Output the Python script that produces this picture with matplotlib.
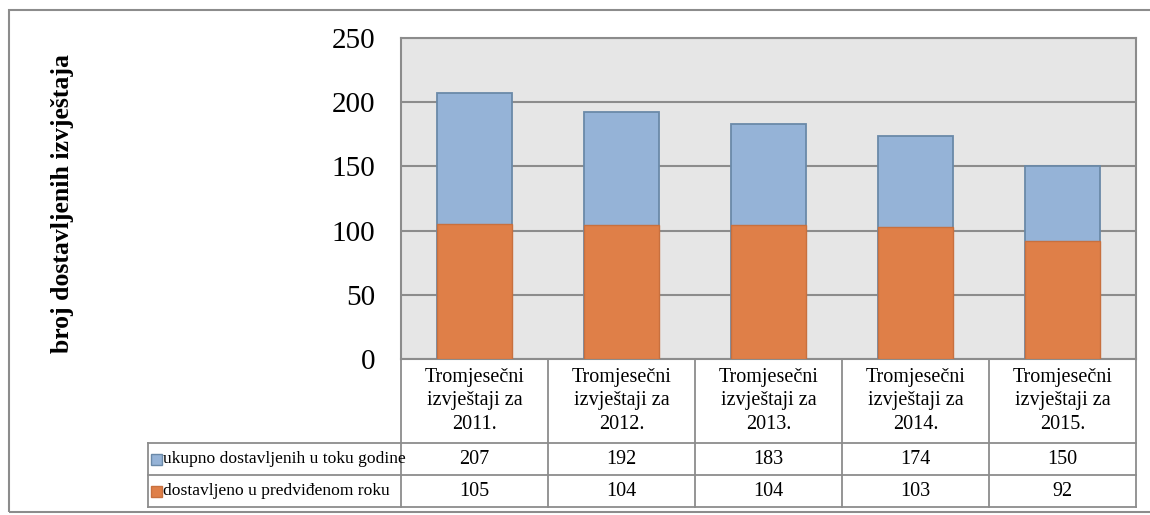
import matplotlib.pyplot as plt
from matplotlib.patches import Rectangle
from matplotlib.transforms import blended_transform_factory

# data
categories = ["Tromjesečni\nizvještaji za\n2011.", "Tromjesečni\nizvještaji za\n2012.",
              "Tromjesečni\nizvještaji za\n2013.", "Tromjesečni\nizvještaji za\n2014.",
              "Tromjesečni\nizvještaji za\n2015."]
total = [207, 192, 183, 174, 150]
on_time = [105, 104, 104, 103, 92]
series_names = ["ukupno dostavljenih u toku godine", "dostavljeno u predviđenom roku"]
y_ticks = [0, 50, 100, 150, 200, 250]

blue = "#95B3D7"
blue_edge = "#6A89A8"
orange = "#DF7F48"
orange_edge = "#C8703E"
grid_col = "#8C8C8C"

plt.rcParams["font.family"] = ["Liberation Serif", "DejaVu Serif"]

W, H = 1150, 515
fig = plt.figure(figsize=(W / 100, H / 100), dpi=100)

# outer frame of the chart object
fig.patches.append(Rectangle((9 / W, 1 - 512 / H), 1.1, (512 - 10) / H,
                             transform=fig.transFigure, fill=False,
                             edgecolor="#8C8C8C", lw=1.5))

ax_l, ax_r, ax_t, ax_b = 401, 1136, 38, 359
ax = fig.add_axes([ax_l / W, 1 - ax_b / H, (ax_r - ax_l) / W, (ax_b - ax_t) / H])
ax.set_facecolor("#E6E6E6")

x = list(range(len(categories)))
ax.bar(x, total, width=0.51, color=blue, edgecolor=blue_edge, lw=1.3, zorder=3)
ax.bar(x, on_time, width=0.51, color=orange, edgecolor=orange_edge, lw=1.0, zorder=4)

ax.set_xlim(-0.5, len(categories) - 0.5)
ax.set_ylim(0, 250)
ax.set_yticks(y_ticks)
ax.set_yticklabels([str(v) for v in y_ticks], fontsize=21)
ax.tick_params(axis="y", length=0, pad=18.5)
ax.set_xticks([])
ax.yaxis.grid(True, color=grid_col, lw=1.5, zorder=1)
for s in ax.spines.values():
    s.set_color(grid_col)
    s.set_linewidth(1.5)

ax.set_ylabel("broj dostavljenih izvještaja", fontsize=18.5, fontweight="bold", labelpad=0)
ax.yaxis.set_label_coords(-(ax_l - 74) / (ax_r - ax_l), 0.485)

# data table below the plot
tr = blended_transform_factory(ax.transData, ax.transAxes)
ph = ax_b - ax_t
y_head = -(443 - ax_b) / ph
y_row1 = -(475 - ax_b) / ph
y_row2 = -(507 - ax_b) / ph
col_w = (ax_r - ax_l) / len(categories)
x_lab = -0.5 - (ax_l - 148) / col_w
line_kw = dict(color=grid_col, lw=1.3, transform=tr, clip_on=False)

n = len(categories)
for i in range(n + 1):
    ax.plot([i - 0.5, i - 0.5], [0, y_row2], **line_kw)
ax.plot([x_lab, x_lab], [y_head, y_row2], **line_kw)
for yy in (y_head, y_row1, y_row2):
    ax.plot([x_lab, n - 0.5], [yy, yy], **line_kw)

for i, cat in enumerate(categories):
    ax.text(i, y_head / 2, cat, transform=tr, ha="center", va="center",
            fontsize=14.5, linespacing=1.3)
    ax.text(i, (y_head + y_row1) / 2, str(total[i]), transform=tr,
            ha="center", va="center", fontsize=14.5)
    ax.text(i, (y_row1 + y_row2) / 2, str(on_time[i]), transform=tr,
            ha="center", va="center", fontsize=14.5)

# legend keys inside the row labels
key_w = 11 / col_w
key_h = 11 / ph
for (y0, y1), name, fc, ec in [((y_head, y_row1), series_names[0], blue, blue_edge),
                                ((y_row1, y_row2), series_names[1], orange, orange_edge)]:
    yc = (y0 + y1) / 2
    ax.add_patch(Rectangle((x_lab + 3 / col_w, yc - key_h / 2), key_w, key_h,
                           transform=tr, facecolor=fc, edgecolor=ec, lw=1,
                           clip_on=False))
    ax.text(x_lab + 15 / col_w, yc, name, transform=tr, ha="left", va="center",
            fontsize=12.6)

fig.savefig("out.png", dpi=100)
